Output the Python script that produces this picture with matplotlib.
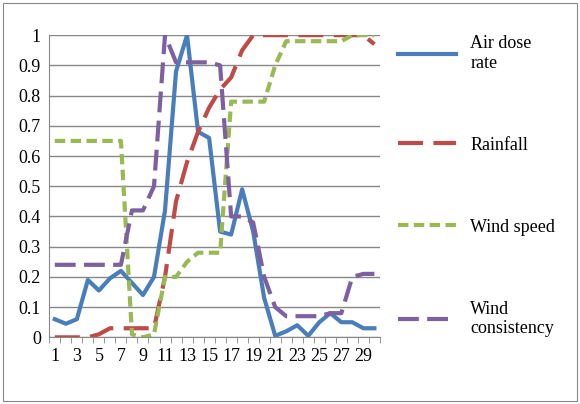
import numpy as np
import matplotlib.pyplot as plt

days = list(range(1, 31))
air_dose = [0.06, 0.045, 0.06, 0.19, 0.155, 0.195, 0.22, 0.18, 0.14, 0.2,
            0.42, 0.88, 1.0, 0.68, 0.66, 0.35, 0.34, 0.49, 0.35, 0.13,
            0.005, 0.02, 0.04, 0.005, 0.05, 0.08, 0.05, 0.05, 0.03, 0.03]
rainfall = [0.0, 0.0, 0.0, 0.0, 0.01, 0.03, 0.03, 0.03, 0.03, 0.03,
            0.2, 0.45, 0.58, 0.68, 0.76, 0.82, 0.86, 0.95, 1.0, 1.0,
            1.0, 1.0, 1.0, 1.0, 1.0, 1.0, 1.0, 1.0, 1.0, 0.97]
wind_speed = [0.65, 0.65, 0.65, 0.65, 0.65, 0.65, 0.65, 0.01, 0.0, 0.01,
              0.2, 0.2, 0.25, 0.28, 0.28, 0.28, 0.78, 0.78, 0.78, 0.78,
              0.9, 0.98, 0.98, 0.98, 0.98, 0.98, 0.98, 1.0, 1.0, 1.0]
wind_cons = [0.24, 0.24, 0.24, 0.24, 0.24, 0.24, 0.24, 0.42, 0.42, 0.5,
             1.0, 0.91, 0.91, 0.91, 0.91, 0.9, 0.4, 0.4, 0.38, 0.2,
             0.1, 0.07, 0.07, 0.07, 0.07, 0.08, 0.08, 0.2, 0.21, 0.21]

plt.rcParams['font.family'] = ['Liberation Serif', 'DejaVu Serif']

fig = plt.figure(figsize=(5.8, 4.04), dpi=100)
ax = fig.add_axes([0.085, 0.165, 0.57, 0.748])
fig.patches.append(plt.Rectangle((0.005, 0.007), 0.99, 0.986, transform=fig.transFigure,
                                 fill=False, edgecolor='#888888', lw=0.8))

x = np.arange(len(days))
ax.plot(x, air_dose, color='#4a7ebb', lw=3, label='Air dose\nrate')
ax.plot(x, rainfall, color='#be4b48', lw=3, dashes=(6, 2.5), label='Rainfall')
ax.plot(x, wind_speed, color='#98b954', lw=3, dashes=(2.5, 1.3), label='Wind speed')
ax.plot(x, wind_cons, color='#7d60a0', lw=3, dashes=(5, 2), label='Wind\nconsistency')

ax.set_xlim(-0.5, len(days) - 0.5)
ax.set_ylim(0, 1)
ax.set_yticks(np.arange(0, 1.01, 0.1))
ax.set_yticklabels(['0'] + [f'{v:.1f}' for v in np.arange(0.1, 0.95, 0.1)] + ['1'])
ax.set_xticks(x[::2])
ax.set_xticklabels([str(d) for d in days[::2]])
ax.set_xticks(np.arange(-0.5, len(days)), minor=True)
ax.tick_params(axis='x', which='major', length=0, labelsize=13, pad=8)
ax.tick_params(axis='x', which='minor', length=4, color='#888888')
ax.tick_params(axis='y', length=0, labelsize=13, pad=6)
ax.grid(axis='y', color='#888888', lw=1)
for s in ['top', 'right']:
    ax.spines[s].set_visible(False)
ax.spines['left'].set_color('#888888')
ax.spines['bottom'].set_color('#888888')
ax.set_axisbelow(True)

ax.legend(loc='center left', bbox_to_anchor=(1.0, 0.5), frameon=False,
          fontsize=13, handlelength=3.2, labelspacing=3.6, borderaxespad=0.6)

plt.savefig('out.png')
